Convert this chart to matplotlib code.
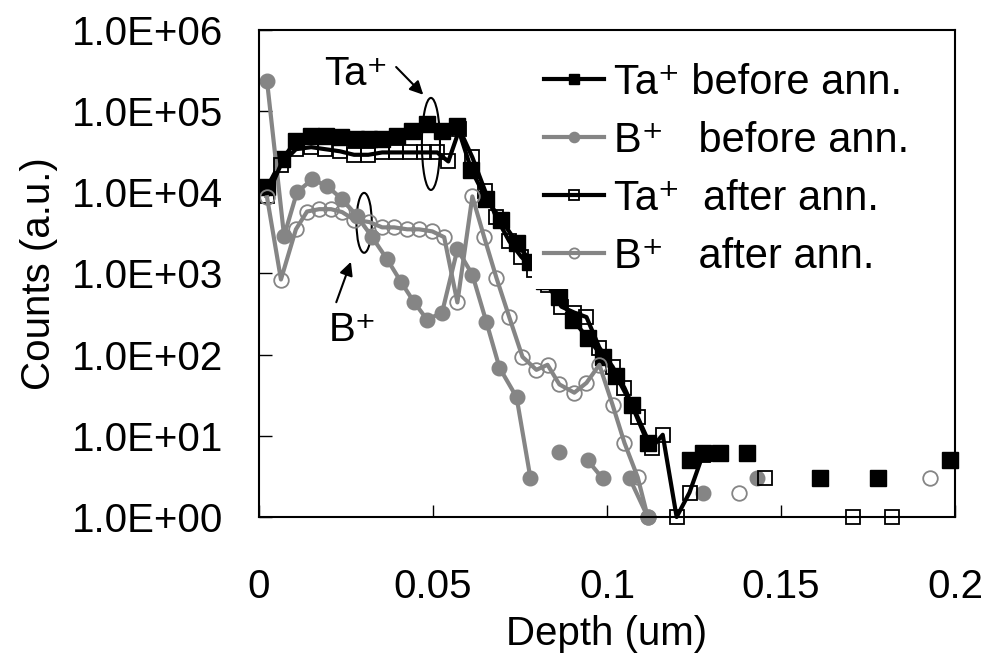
import matplotlib
matplotlib.use("Agg")
import matplotlib.pyplot as plt
from matplotlib.patches import Ellipse
from matplotlib.ticker import NullLocator
import numpy as np

plt.rcParams['font.family'] = ['Liberation Sans', 'DejaVu Sans']

nan = np.nan

# Ta+ before annealing (filled squares); nan = gap in the line
ta_before_depth = [0.0023, 0.0066, 0.0106, 0.0150, 0.0193, 0.0236, 0.0279, 0.0317, 0.0354,
                   0.0397, 0.0440, 0.0483, 0.0526, 0.0570, 0.0610, 0.0653, 0.0696, 0.0740,
                   0.0780, 0.0820, 0.0863, 0.0901, 0.0944, 0.0987, 0.1027, 0.1071, 0.1117,
                   0.1160, 0.1237, 0.1275, 0.1324, 0.1360, 0.1401, 0.1500, 0.1612, 0.1700,
                   0.1778, 0.1900, 0.1986]
ta_before_counts = [1.15e4, 2.55e4, 4.27e4, 4.9e4, 4.9e4, 4.77e4, 4.5e4, 4.5e4, 4.5e4,
                    4.9e4, 5.7e4, 6.9e4, 5.7e4, 6.5e4, 1.9e4, 8.2e3, 4.6e3, 2.4e3,
                    1.4e3, 800, 520, 270, 162, 94, 54, 24, 8.2,
                    nan, 5.1, 6.2, 6.2, nan, 6.2, nan, 3.0, nan,
                    3.0, nan, 5.0]

# B+ before annealing (filled circles)
b_before_depth = [0.0023, 0.0072, 0.0109, 0.0153, 0.0196, 0.0239, 0.0282, 0.0325, 0.0368,
                  0.0409, 0.0446, 0.0483, 0.0526, 0.0570, 0.0613, 0.0653, 0.0691, 0.0740,
                  0.0780, 0.0820, 0.0863, 0.0900, 0.0944, 0.0987, 0.1030, 0.1065, 0.1117,
                  0.1200, 0.1275, 0.1350, 0.1430]
b_before_counts = [2.35e5, 2.9e3, 1.0e4, 1.45e4, 1.19e4, 8.2e3, 5.1e3, 2.8e3, 1.5e3,
                   775, 440, 270, 330, 1.98e3, 970, 255, 69, 30,
                   3.0, nan, 6.3, nan, 5.0, 3.0, nan, 3.0, 1.0,
                   nan, 2.0, nan, 3.0]

# Ta+ after annealing (open squares)
ta_after_depth = [0.0023, 0.0063, 0.0106, 0.0150, 0.0190, 0.0233, 0.0273, 0.0314, 0.0354,
                  0.0394, 0.0435, 0.0475, 0.0512, 0.0544, 0.0576, 0.0613, 0.0650, 0.0682,
                  0.0719, 0.0754, 0.0791, 0.0829, 0.0869, 0.0906, 0.0941, 0.0978, 0.1016,
                  0.1050, 0.1088, 0.1128, 0.1160, 0.1200, 0.1237, 0.1275, 0.1360, 0.1453,
                  0.1600, 0.1706, 0.1760, 0.1819]
ta_after_counts = [8.9e3, 2.2e4, 3.4e4, 3.6e4, 3.4e4, 3.2e4, 2.9e4, 2.9e4, 3.1e4,
                   3.1e4, 3.1e4, 3.1e4, 3.1e4, 2.4e4, 6.0e4, 2.7e4, 1.03e4, 4.9e3,
                   2.5e3, 1.6e3, 1.1e3, 730, 390, 330, 290, 122, 71,
                   39, 17, 7.1, 10.3, 1.0, 2.0, 5.8, nan, 3.0,
                   nan, 1.0, nan, 1.0]

# B+ after annealing (open circles)
b_after_depth = [0.0023, 0.0063, 0.0106, 0.0138, 0.0173, 0.0207, 0.0239, 0.0273, 0.0317,
                 0.0354, 0.0388, 0.0426, 0.0460, 0.0498, 0.0532, 0.0570, 0.0613, 0.0647,
                 0.0682, 0.0719, 0.0757, 0.0797, 0.0829, 0.0863, 0.0906, 0.0941, 0.0978,
                 0.1016, 0.1050, 0.1088, 0.1117, 0.1250, 0.1378, 0.1650, 0.1928]
b_after_counts = [8.7e3, 843, 3.5e3, 5.8e3, 6.2e3, 6.2e3, 5.7e3, 4.6e3, 4.3e3,
                  3.7e3, 3.7e3, 3.5e3, 3.5e3, 3.3e3, 2.8e3, 440, 8.9e3, 2.8e3,
                  890, 290, 94, 65, 75, 43, 34, 45, 75,
                  24, 8.2, 3.1, 1.0, nan, 2.0, nan, 3.0]

labels = ['Ta\u207a before ann.', 'B\u207a   before ann.', 'Ta\u207a  after ann.', 'B\u207a   after ann.']
x_ticks = [0, 0.05, 0.1, 0.15, 0.2]
x_tick_labels = ['0', '0.05', '0.1', '0.15', '0.2']
y_ticks = [1, 10, 100, 1e3, 1e4, 1e5, 1e6]
y_tick_labels = ['1.0E+00', '1.0E+01', '1.0E+02', '1.0E+03', '1.0E+04', '1.0E+05', '1.0E+06']

GRAY = '#858585'
FS = 29
LEG_FS = 30

fig = plt.figure(figsize=(9.86, 6.59), dpi=100)
ax = fig.add_axes([0.2627, 0.2155, 0.7059, 0.739])

ax.plot(ta_before_depth, ta_before_counts, color='black', lw=3, marker='s', ms=11,
        mfc='black', mec='black', label=labels[0], clip_on=False)
ax.plot(b_before_depth, b_before_counts, color=GRAY, lw=3, marker='o', ms=10.5,
        mfc=GRAY, mec=GRAY, label=labels[1], clip_on=False)
ax.plot(ta_after_depth, ta_after_counts, color='black', lw=3, marker='s', ms=10.5,
        mfc='none', mec='black', mew=1.3, label=labels[2], clip_on=False)
ax.plot(b_after_depth, b_after_counts, color=GRAY, lw=3, marker='o', ms=10.5,
        mfc='none', mec=GRAY, mew=1.3, label=labels[3], clip_on=False)

ax.set_yscale('log')
ax.set_xlim(0, 0.2)
ax.set_ylim(1, 1e6)
ax.set_xticks(x_ticks)
ax.set_xticklabels(x_tick_labels)
ax.set_yticks(y_ticks)
ax.set_yticklabels(y_tick_labels)
ax.yaxis.set_minor_locator(NullLocator())
ax.tick_params(axis='both', direction='in', length=9, width=1, labelsize=FS)
ax.tick_params(axis='x', pad=37)
ax.tick_params(axis='y', pad=26)
for s in ax.spines.values():
    s.set_linewidth(1.5)

ax.set_xlabel('Depth (um)', fontsize=FS, labelpad=6)
ax.set_ylabel('Counts (a.u.)', fontsize=FS, labelpad=10)

# annotations: ellipses, labels and arrows
ax.add_patch(Ellipse((0.247, 0.766), 0.026, 0.189, transform=ax.transAxes,
                     fill=False, ec='black', lw=1.5))
ax.add_patch(Ellipse((0.151, 0.604), 0.022, 0.123, transform=ax.transAxes,
                     fill=False, ec='black', lw=1.5))
ax.text(0.140, 0.910, 'Ta\u207a', transform=ax.transAxes, fontsize=FS, ha='center', va='center')
ax.text(0.135, 0.384, 'B\u207a', transform=ax.transAxes, fontsize=FS, ha='center', va='center')
arrow = dict(arrowstyle='-|>', color='black', lw=1.5, mutation_scale=20, shrinkA=0, shrinkB=0)
ax.annotate('', xy=(0.236, 0.867), xytext=(0.197, 0.924), xycoords='axes fraction',
            textcoords='axes fraction', arrowprops=arrow)
ax.annotate('', xy=(0.132, 0.524), xytext=(0.111, 0.441), xycoords='axes fraction',
            textcoords='axes fraction', arrowprops=arrow)

leg = ax.legend(loc='upper left', bbox_to_anchor=(0.392, 0.958), fontsize=LEG_FS, frameon=True,
                fancybox=False, edgecolor='none', facecolor='white', framealpha=1,
                borderpad=0.3, borderaxespad=0, labelspacing=0.43, handlelength=1.44,
                handletextpad=0.24, markerscale=0.7)

fig.savefig('out.png', dpi=100)
